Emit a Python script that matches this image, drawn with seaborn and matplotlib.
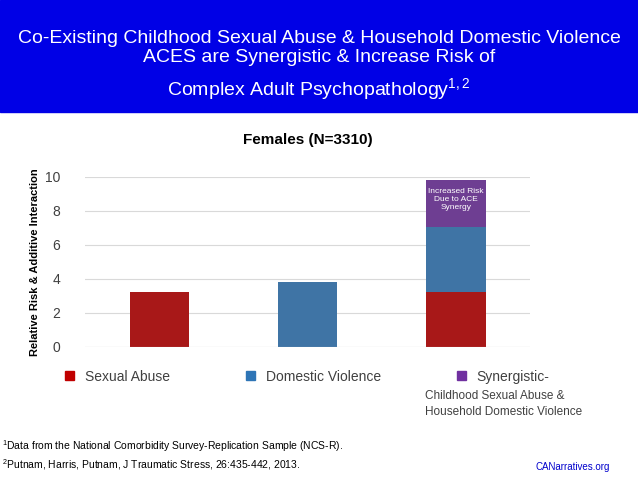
import matplotlib
matplotlib.use("Agg")
import matplotlib.pyplot as plt
import seaborn as sns
import pandas as pd

plt.rcParams["font.family"] = "Liberation Sans"
plt.rcParams["mathtext.fontset"] = "custom"
plt.rcParams["mathtext.rm"] = "Liberation Sans"

categories = ["Sexual Abuse", "Domestic Violence", "Synergistic"]
sexual_abuse = [3.25, 0, 3.25]
domestic_violence = [0, 3.8, 3.8]
synergy = [0, 0, 2.75]
yticks = [0, 2, 4, 6, 8, 10]

red, blue, purple = "#C00000", "#2E75B6", "#7030A0"
fig = plt.figure(figsize=(6.38, 4.79), dpi=100)
fig.patches.append(plt.Rectangle((0, 1 - 112/479), 1, 112/479, transform=fig.transFigure, color="#0000E6", zorder=0))
fig.text(0.5, 1 - 48/479, "Co-Existing Childhood Sexual Abuse & Household Domestic Violence\nACES are Synergistic & Increase Risk of",
         ha="center", va="center", color="white", fontsize=14, linespacing=1.1)
fig.text(0.5, 1 - 90/479, r"Complex Adult Psychopathology$^{1,2}$", ha="center", va="center", color="white", fontsize=14)

ax = fig.add_axes([85/638, 1 - 347/479, 445/638, 170/479])
df = pd.DataFrame({"cat": categories, "sa": sexual_abuse, "dv": domestic_violence, "sy": synergy})
sns.barplot(x=list(range(3)), y=df["sa"] + df["dv"] + df["sy"], color=purple, width=0.4, ax=ax, native_scale=True, label="_nolegend_")
sns.barplot(x=list(range(3)), y=df["sa"] + df["dv"], color=blue, width=0.4, ax=ax, native_scale=True, label="_nolegend_")
sns.barplot(x=list(range(3)), y=df["sa"], color=red, width=0.4, ax=ax, native_scale=True, label="_nolegend_")
h = [plt.Rectangle((0, 0), 1, 1, color=c) for c in (red, blue, purple)]
sns.despine(ax=ax, left=True, bottom=True)
ax.set_xlim(-0.5, 2.5)
ax.set_ylim(0, 10)
ax.set_yticks(yticks)
ax.yaxis.grid(True, color="#D9D9D9", lw=0.8)
ax.set_axisbelow(True)
ax.set_xticks([])
ax.set_xlabel("")
ax.set_ylabel("")
ax.tick_params(axis="y", length=0, labelsize=10, colors="#404040", pad=18)
ax.axhline(0, color="#D9D9D9", lw=0.8)
ax.text(2, 8.7, "Increased Risk\nDue to ACE\nSynergy", ha="center", va="center", color="white", fontsize=6)
ax.set_title("Females (N=3310)", fontweight="bold", fontsize=11, pad=24)
fig.text(35/638, 1 - 262/479, "Relative Risk & Additive Interaction", rotation=90, ha="center", va="center",
         fontweight="bold", fontsize=8)
ax.legend(h, ["Sexual Abuse", "Domestic Violence", "Synergistic-"], loc="upper center", bbox_to_anchor=(0.5, -0.06),
          ncol=3, frameon=False, fontsize=10, handlelength=0.6, handleheight=0.6, columnspacing=5.5, labelcolor="#404040")
fig.text(425/638, 1 - 404/479, "Childhood Sexual Abuse &\nHousehold Domestic Violence", ha="left", va="center",
         fontsize=8.5, color="#404040", linespacing=1.4)
fig.text(2/638, 1 - 455/479, r"$^1$Data from the National Comorbidity Survey-Replication Sample (NCS-R)." "\n"
         r"$^2$Putnam, Harris, Putnam, J Traumatic Stress, 26:435-442, 2013.", ha="left", va="center", fontsize=7.5, linespacing=1.3)
fig.text(610/638, 1 - 467/479, "CANarratives.org", ha="right", va="center", fontsize=7, color="#0000CC")
fig.savefig("out.png", dpi=100)
